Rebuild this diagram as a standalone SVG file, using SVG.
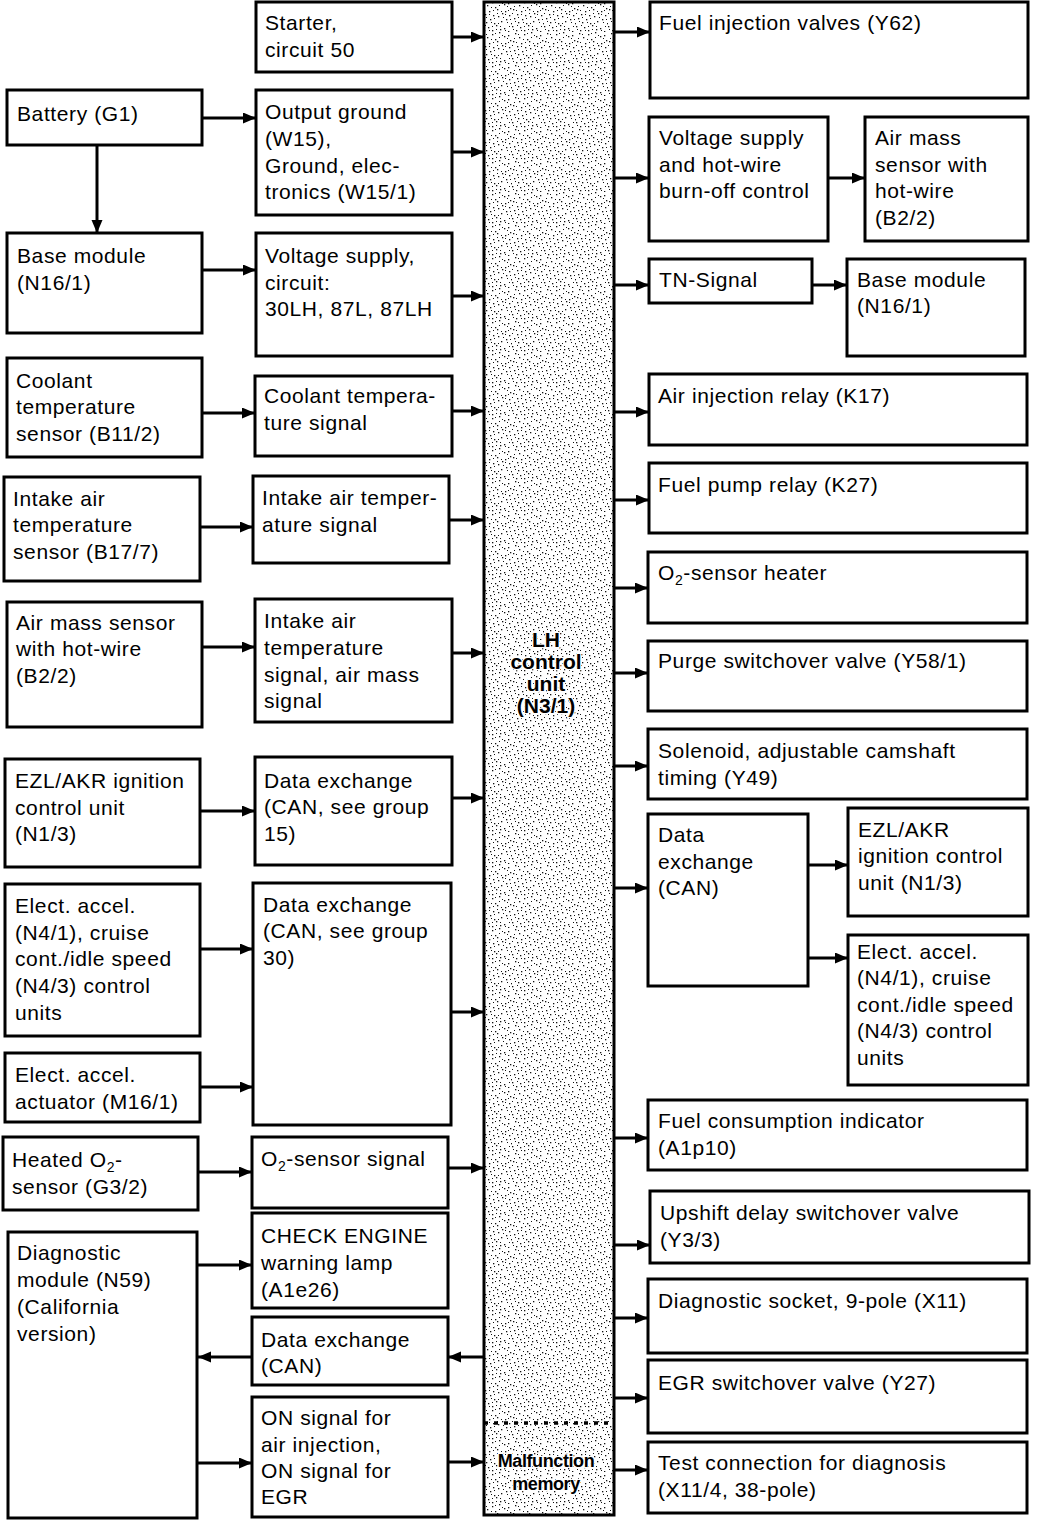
<svg xmlns="http://www.w3.org/2000/svg" width="1056" height="1522" viewBox="0 0 1056 1522">
<style>
.box{fill:#fff;stroke:#000;stroke-width:3}
.t{font-family:"Liberation Sans",Arial,sans-serif;font-size:21px;letter-spacing:0.6px;fill:#000}
.b{font-family:"Liberation Sans",Arial,sans-serif;font-weight:bold;fill:#000;text-anchor:middle;stroke:#fff;stroke-width:2.5px;paint-order:stroke;stroke-linejoin:round}
.c{stroke:#000;stroke-width:3;fill:none;marker-end:url(#ah)}
</style>
<defs>
<marker id="ah" markerUnits="userSpaceOnUse" markerWidth="14" markerHeight="12" refX="13" refY="5.5" orient="auto">
<path d="M0,0 L13,5.5 L0,11 z" fill="#000"/>
</marker>
<pattern id="stip" width="32" height="32" patternUnits="userSpaceOnUse">
<rect width="32" height="32" fill="#fff"/>
<g fill="#111">
<rect x="3" y="1" width="1.3" height="1.3"/><rect x="12" y="2" width="1.3" height="1.3"/><rect x="19" y="0" width="1.3" height="1.3"/><rect x="28" y="3" width="1.3" height="1.3"/>
<rect x="7" y="5" width="1.3" height="1.3"/><rect x="15" y="7" width="1.3" height="1.3"/><rect x="24" y="4" width="1.3" height="1.3"/><rect x="30" y="8" width="1.3" height="1.3"/>
<rect x="1" y="9" width="1.3" height="1.3"/><rect x="9" y="11" width="1.3" height="1.3"/><rect x="17" y="9" width="1.3" height="1.3"/><rect x="25" y="11" width="1.3" height="1.3"/>
<rect x="5" y="14" width="1.3" height="1.3"/><rect x="13" y="15" width="1.3" height="1.3"/><rect x="22" y="13" width="1.3" height="1.3"/><rect x="29" y="15" width="1.3" height="1.3"/>
<rect x="2" y="18" width="1.3" height="1.3"/><rect x="10" y="19" width="1.3" height="1.3"/><rect x="18" y="16" width="1.3" height="1.3"/><rect x="26" y="19" width="1.3" height="1.3"/>
<rect x="6" y="22" width="1.3" height="1.3"/><rect x="14" y="23" width="1.3" height="1.3"/><rect x="21" y="21" width="1.3" height="1.3"/><rect x="31" y="23" width="1" height="1.3"/>
<rect x="0" y="26" width="1.3" height="1.3"/><rect x="8" y="27" width="1.3" height="1.3"/><rect x="16" y="25" width="1.3" height="1.3"/><rect x="24" y="28" width="1.3" height="1.3"/>
<rect x="4" y="30" width="1.3" height="1.3"/><rect x="12" y="30" width="1.3" height="1.3"/><rect x="20" y="29" width="1.3" height="1.3"/><rect x="28" y="31" width="1.3" height="1"/>
<rect x="6" y="2" width="1" height="1"/><rect x="15" y="1" width="1" height="1"/><rect x="22" y="3" width="1" height="1"/><rect x="2" y="6" width="1" height="1"/>
<rect x="11" y="7" width="1" height="1"/><rect x="19" y="5" width="1" height="1"/><rect x="27" y="6" width="1" height="1"/><rect x="4" y="10" width="1" height="1"/>
<rect x="13" y="10" width="1" height="1"/><rect x="21" y="11" width="1" height="1"/><rect x="28" y="10" width="1" height="1"/><rect x="0" y="13" width="1" height="1"/>
<rect x="9" y="14" width="1" height="1"/><rect x="17" y="13" width="1" height="1"/><rect x="25" y="14" width="1" height="1"/><rect x="6" y="17" width="1" height="1"/>
<rect x="14" y="18" width="1" height="1"/><rect x="23" y="17" width="1" height="1"/><rect x="30" y="19" width="1" height="1"/><rect x="3" y="21" width="1" height="1"/>
<rect x="11" y="22" width="1" height="1"/><rect x="18" y="23" width="1" height="1"/><rect x="27" y="22" width="1" height="1"/><rect x="5" y="25" width="1" height="1"/>
<rect x="12" y="26" width="1" height="1"/><rect x="20" y="26" width="1" height="1"/><rect x="29" y="26" width="1" height="1"/><rect x="1" y="29" width="1" height="1"/>
<rect x="9" y="30" width="1" height="1"/><rect x="16" y="29" width="1" height="1"/><rect x="25" y="30" width="1" height="1"/>
</g>
</pattern>
</defs>
<rect width="1056" height="1522" fill="#fff"/>

<!-- central control unit -->
<g id="lh_control_unit">
<rect x="484" y="2" width="130" height="1513" fill="url(#stip)" stroke="#000" stroke-width="3"/>
<line x1="484" y1="1423" x2="614" y2="1423" stroke="#000" stroke-width="3.5" stroke-dasharray="4 6"/>
<text class="b" font-size="21" x="546" y="647">LH</text>
<text class="b" font-size="21" x="546" y="669">control</text>
<text class="b" font-size="21" x="546" y="691">unit</text>
<text class="b" font-size="21" x="546" y="713">(N3/1)</text>
<text class="b" font-size="18" x="546" y="1467" letter-spacing="-0.4">Malfunction</text>
<text class="b" font-size="18" x="546" y="1490" letter-spacing="-0.4">memory</text>
</g>

<!-- left column -->
<g id="battery"><rect class="box" x="7" y="90" width="195" height="55"/>
<text class="t" x="17" y="121">Battery (G1)</text></g>
<g id="base_module_left"><rect class="box" x="7" y="233" width="195" height="100"/>
<text class="t" x="17" y="263">Base module</text><text class="t" x="17" y="290">(N16/1)</text></g>
<g id="coolant_sensor"><rect class="box" x="7" y="358" width="195" height="99"/>
<text class="t" x="16" y="388">Coolant</text><text class="t" x="16" y="414">temperature</text><text class="t" x="16" y="441">sensor (B11/2)</text></g>
<g id="intake_sensor"><rect class="box" x="4" y="477" width="196" height="104"/>
<text class="t" x="13" y="506">Intake air</text><text class="t" x="13" y="532">temperature</text><text class="t" x="13" y="559">sensor (B17/7)</text></g>
<g id="air_mass_sensor_left"><rect class="box" x="7" y="602" width="195" height="125"/>
<text class="t" x="16" y="630">Air mass sensor</text><text class="t" x="16" y="656">with hot-wire</text><text class="t" x="16" y="683">(B2/2)</text></g>
<g id="ezl_left"><rect class="box" x="5" y="759" width="195" height="108"/>
<text class="t" x="15" y="788">EZL/AKR ignition</text><text class="t" x="15" y="815">control unit</text><text class="t" x="15" y="841">(N1/3)</text></g>
<g id="elect_accel_left"><rect class="box" x="5" y="884" width="195" height="152"/>
<text class="t" x="15" y="913">Elect. accel.</text><text class="t" x="15" y="940">(N4/1), cruise</text><text class="t" x="15" y="966">cont./idle speed</text><text class="t" x="15" y="993">(N4/3) control</text><text class="t" x="15" y="1020">units</text></g>
<g id="actuator"><rect class="box" x="5" y="1053" width="195" height="69"/>
<text class="t" x="15" y="1082">Elect. accel.</text><text class="t" x="15" y="1109">actuator (M16/1)</text></g>
<g id="heated_o2"><rect class="box" x="3" y="1137" width="195" height="73"/>
<text class="t" x="12" y="1167">Heated O<tspan font-size="14" dy="5">2</tspan><tspan dy="-5">-</tspan></text><text class="t" x="12" y="1194">sensor (G3/2)</text></g>
<g id="diag_module"><rect class="box" x="8" y="1232" width="189" height="286"/>
<text class="t" x="17" y="1260">Diagnostic</text><text class="t" x="17" y="1287">module (N59)</text><text class="t" x="17" y="1314">(California</text><text class="t" x="17" y="1341">version)</text></g>

<!-- middle column -->
<g id="starter"><rect class="box" x="256" y="2" width="196" height="70"/>
<text class="t" x="265" y="30">Starter,</text><text class="t" x="265" y="57">circuit 50</text></g>
<g id="output_ground"><rect class="box" x="256" y="90" width="196" height="125"/>
<text class="t" x="265" y="119">Output ground</text><text class="t" x="265" y="146">(W15),</text><text class="t" x="265" y="173">Ground, elec-</text><text class="t" x="265" y="199">tronics (W15/1)</text></g>
<g id="voltage_supply"><rect class="box" x="256" y="233" width="196" height="123"/>
<text class="t" x="265" y="263">Voltage supply,</text><text class="t" x="265" y="290">circuit:</text><text class="t" x="265" y="316">30LH, 87L, 87LH</text></g>
<g id="coolant_signal"><rect class="box" x="255" y="376" width="197" height="80"/>
<text class="t" x="264" y="403">Coolant tempera-</text><text class="t" x="264" y="430">ture signal</text></g>
<g id="intake_signal"><rect class="box" x="253" y="476" width="196" height="87"/>
<text class="t" x="262" y="505">Intake air temper-</text><text class="t" x="262" y="532">ature signal</text></g>
<g id="air_mass_signal"><rect class="box" x="255" y="599" width="197" height="123"/>
<text class="t" x="264" y="628">Intake air</text><text class="t" x="264" y="655">temperature</text><text class="t" x="264" y="682">signal, air mass</text><text class="t" x="264" y="708">signal</text></g>
<g id="data_exchange_15"><rect class="box" x="255" y="757" width="197" height="108"/>
<text class="t" x="264" y="788">Data exchange</text><text class="t" x="264" y="814">(CAN, see group</text><text class="t" x="264" y="841">15)</text></g>
<g id="data_exchange_30"><rect class="box" x="253" y="883" width="198" height="242"/>
<text class="t" x="263" y="912">Data exchange</text><text class="t" x="263" y="938">(CAN, see group</text><text class="t" x="263" y="965">30)</text></g>
<g id="o2_signal"><rect class="box" x="252" y="1137" width="196" height="71"/>
<text class="t" x="261" y="1166">O<tspan font-size="14" dy="5">2</tspan><tspan dy="-5">-sensor signal</tspan></text></g>
<g id="check_engine"><rect class="box" x="252" y="1213" width="196" height="95"/>
<text class="t" x="261" y="1243">CHECK ENGINE</text><text class="t" x="261" y="1270">warning lamp</text><text class="t" x="261" y="1297">(A1e26)</text></g>
<g id="data_exchange_can_left"><rect class="box" x="252" y="1317" width="196" height="68"/>
<text class="t" x="261" y="1347">Data exchange</text><text class="t" x="261" y="1373">(CAN)</text></g>
<g id="on_signal"><rect class="box" x="252" y="1397" width="196" height="120"/>
<text class="t" x="261" y="1425">ON signal for</text><text class="t" x="261" y="1452">air injection,</text><text class="t" x="261" y="1478">ON signal for</text><text class="t" x="261" y="1504">EGR</text></g>

<!-- right column -->
<g id="fuel_injection"><rect class="box" x="650" y="2" width="378" height="96"/>
<text class="t" x="659" y="30">Fuel injection valves (Y62)</text></g>
<g id="hotwire_control"><rect class="box" x="649" y="117" width="179" height="124"/>
<text class="t" x="659" y="145">Voltage supply</text><text class="t" x="659" y="172">and hot-wire</text><text class="t" x="659" y="198">burn-off control</text></g>
<g id="air_mass_sensor_right"><rect class="box" x="865" y="117" width="163" height="124"/>
<text class="t" x="875" y="145">Air mass</text><text class="t" x="875" y="172">sensor with</text><text class="t" x="875" y="198">hot-wire</text><text class="t" x="875" y="225">(B2/2)</text></g>
<g id="tn_signal"><rect class="box" x="649" y="259" width="163" height="44"/>
<text class="t" x="659" y="287">TN-Signal</text></g>
<g id="base_module_right"><rect class="box" x="847" y="259" width="178" height="97"/>
<text class="t" x="857" y="287">Base module</text><text class="t" x="857" y="313">(N16/1)</text></g>
<g id="air_injection_relay"><rect class="box" x="649" y="374" width="378" height="71"/>
<text class="t" x="658" y="403">Air injection relay (K17)</text></g>
<g id="fuel_pump_relay"><rect class="box" x="649" y="463" width="378" height="70"/>
<text class="t" x="658" y="492">Fuel pump relay (K27)</text></g>
<g id="o2_heater"><rect class="box" x="648" y="552" width="379" height="71"/>
<text class="t" x="658" y="580">O<tspan font-size="14" dy="5">2</tspan><tspan dy="-5">-sensor heater</tspan></text></g>
<g id="purge_valve"><rect class="box" x="648" y="641" width="379" height="70"/>
<text class="t" x="658" y="668">Purge switchover valve (Y58/1)</text></g>
<g id="solenoid"><rect class="box" x="648" y="729" width="379" height="70"/>
<text class="t" x="658" y="758">Solenoid, adjustable camshaft</text><text class="t" x="658" y="785">timing (Y49)</text></g>
<g id="data_exchange_can_right"><rect class="box" x="648" y="814" width="160" height="172"/>
<text class="t" x="658" y="842">Data</text><text class="t" x="658" y="869">exchange</text><text class="t" x="658" y="895">(CAN)</text></g>
<g id="ezl_right"><rect class="box" x="848" y="808" width="180" height="108"/>
<text class="t" x="858" y="837">EZL/AKR</text><text class="t" x="858" y="863">ignition control</text><text class="t" x="858" y="890">unit (N1/3)</text></g>
<g id="elect_accel_right"><rect class="box" x="848" y="935" width="180" height="150"/>
<text class="t" x="857" y="959">Elect. accel.</text><text class="t" x="857" y="985">(N4/1), cruise</text><text class="t" x="857" y="1012">cont./idle speed</text><text class="t" x="857" y="1038">(N4/3) control</text><text class="t" x="857" y="1065">units</text></g>
<g id="fuel_consumption"><rect class="box" x="648" y="1100" width="379" height="70"/>
<text class="t" x="658" y="1128">Fuel consumption indicator</text><text class="t" x="658" y="1155">(A1p10)</text></g>
<g id="upshift"><rect class="box" x="650" y="1191" width="379" height="72"/>
<text class="t" x="660" y="1220">Upshift delay switchover valve</text><text class="t" x="660" y="1247">(Y3/3)</text></g>
<g id="diag_socket"><rect class="box" x="648" y="1279" width="379" height="74"/>
<text class="t" x="658" y="1308">Diagnostic socket, 9-pole (X11)</text></g>
<g id="egr_valve"><rect class="box" x="648" y="1360" width="379" height="73"/>
<text class="t" x="658" y="1390">EGR switchover valve (Y27)</text></g>
<g id="test_connection"><rect class="box" x="648" y="1442" width="379" height="71"/>
<text class="t" x="658" y="1470">Test connection for diagnosis</text><text class="t" x="658" y="1497">(X11/4, 38-pole)</text></g>

<!-- connectors -->
<g id="connectors">
<line class="c" x1="202" y1="118" x2="256" y2="118"/>
<line class="c" x1="97" y1="145" x2="97" y2="233"/>
<line class="c" x1="202" y1="270" x2="256" y2="270"/>
<line class="c" x1="202" y1="413" x2="255" y2="413"/>
<line class="c" x1="200" y1="527" x2="253" y2="527"/>
<line class="c" x1="202" y1="647" x2="255" y2="647"/>
<line class="c" x1="200" y1="811" x2="255" y2="811"/>
<line class="c" x1="200" y1="949" x2="253" y2="949"/>
<line class="c" x1="200" y1="1087" x2="253" y2="1087"/>
<line class="c" x1="198" y1="1172" x2="252" y2="1172"/>
<line class="c" x1="197" y1="1265" x2="252" y2="1265"/>
<line class="c" x1="252" y1="1357" x2="198" y2="1357"/>
<line class="c" x1="197" y1="1463" x2="252" y2="1463"/>
<line class="c" x1="452" y1="37" x2="484" y2="37"/>
<line class="c" x1="452" y1="152" x2="484" y2="152"/>
<line class="c" x1="452" y1="296" x2="484" y2="296"/>
<line class="c" x1="452" y1="411" x2="484" y2="411"/>
<line class="c" x1="449" y1="520" x2="484" y2="520"/>
<line class="c" x1="452" y1="653" x2="484" y2="653"/>
<line class="c" x1="452" y1="798" x2="484" y2="798"/>
<line class="c" x1="451" y1="1012" x2="484" y2="1012"/>
<line class="c" x1="448" y1="1168" x2="484" y2="1168"/>
<line class="c" x1="484" y1="1357" x2="448" y2="1357"/>
<line class="c" x1="448" y1="1462" x2="484" y2="1462"/>
<line class="c" x1="614" y1="32" x2="650" y2="32"/>
<line class="c" x1="614" y1="178" x2="649" y2="178"/>
<line class="c" x1="614" y1="285" x2="649" y2="285"/>
<line class="c" x1="614" y1="412" x2="649" y2="412"/>
<line class="c" x1="614" y1="500" x2="649" y2="500"/>
<line class="c" x1="614" y1="588" x2="648" y2="588"/>
<line class="c" x1="614" y1="673" x2="648" y2="673"/>
<line class="c" x1="614" y1="766" x2="648" y2="766"/>
<line class="c" x1="614" y1="888" x2="648" y2="888"/>
<line class="c" x1="614" y1="1138" x2="648" y2="1138"/>
<line class="c" x1="614" y1="1245" x2="650" y2="1245"/>
<line class="c" x1="614" y1="1318" x2="648" y2="1318"/>
<line class="c" x1="614" y1="1398" x2="648" y2="1398"/>
<line class="c" x1="614" y1="1470" x2="648" y2="1470"/>
<line class="c" x1="828" y1="178" x2="865" y2="178"/>
<line class="c" x1="812" y1="285" x2="847" y2="285"/>
<line class="c" x1="808" y1="865" x2="848" y2="865"/>
<line class="c" x1="808" y1="958" x2="848" y2="958"/>
</g>
</svg>
